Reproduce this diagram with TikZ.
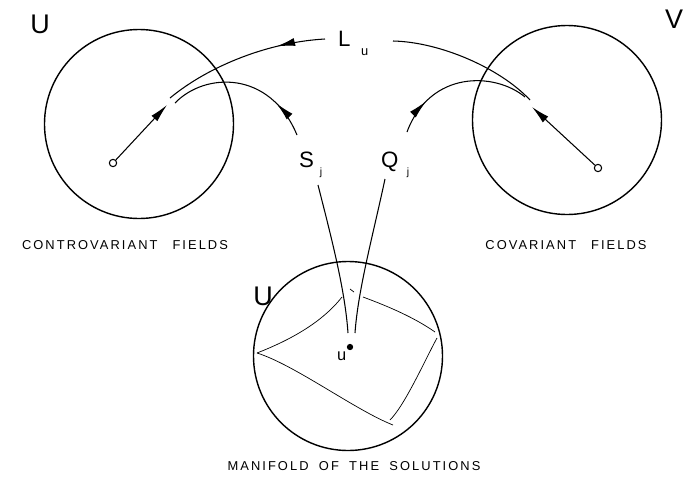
\documentclass[tikz,border=0pt]{standalone}
\usepackage{fontspec}
\setmainfont{Liberation Sans}
\newfontfamily\spacedfont[LetterSpace=16]{Liberation Sans}
\usetikzlibrary{arrows.meta,positioning,decorations.markings}

\begin{document}
\begin{tikzpicture}[
  x=0.03cm, y=-0.03cm,
  >={Latex[length=5.5mm,width=2.4mm]},
  space/.style={circle, draw=black, line width=1.2pt, minimum size=5.67cm, inner sep=0pt},
  origin/.style={circle, draw=black, line width=0.9pt, fill=white, minimum size=0.22cm, inner sep=0pt},
  point/.style={circle, fill=black, minimum size=0.19cm, inner sep=0pt},
  lab/.style={inner sep=0pt, font=\fontsize{23}{25}\selectfont},
  oplab/.style={inner sep=0pt, anchor=base west, font=\fontsize{19}{21}\selectfont},
  caption/.style={inner sep=0pt, font=\spacedfont\fontsize{11}{13}\selectfont},
  map/.style={line width=0.9pt},
  midarrow/.style={postaction={decorate}, decoration={markings, mark=at position #1 with {\arrow{>}}}},
  sheet/.style={line width=0.6pt}
]
\useasboundingbox (0,0) rectangle (691,494);

\node[space] (contra) at (139,124) {};
\node[space] (co) at (567,120) {};
\node[space] (sol) at (348,356) {};

\node[lab] (Ucontra) at (40,24) {U};
\node[lab] (Vco) at (674,19) {V};
\node[lab] (Usol) at (263,296) {U};

\node[origin] (o1) at (113,163) {};
\node[origin] (o2) at (598,168) {};
\node[point] (u) at (350,347) {};
\node[inner sep=0pt, font=\fontsize{14}{15}\selectfont, below left=2pt and 1pt of u] (ulab) {u};

\node[oplab] (Lu) at (338,46) {L\hspace{9pt}\raisebox{-8pt}{\fontsize{11}{11}\selectfont u}};
\node[oplab] (Sj) at (299,167) {S\hspace{5pt}\raisebox{-7.5pt}{\fontsize{9}{9}\selectfont j}};
\node[oplab] (Qj) at (381,167) {Q\hspace{7pt}\raisebox{-7.5pt}{\fontsize{9}{9}\selectfont j}};

\node[caption] (capcontra) at (125,245) {CONTROVARIANT\hspace{8pt} FIELDS};
\node[caption] (capco) at (566,245) {COVARIANT\hspace{8pt} FIELDS};
\node[caption] (capsol) at (354,466) {MANIFOLD\hspace{4pt} OF\hspace{4pt} THE\hspace{4pt} SOLUTIONS};

\coordinate (vL) at (167,105);
\coordinate (vR) at (532,107);
\coordinate (LuL) at (170,98);
\coordinate (LuR) at (530,100);
\coordinate (SjE) at (175,103);
\coordinate (QjE) at (525,97);
\coordinate (Sbot) at (348,333);
\coordinate (Qbot) at (355,333);

\draw[map, ->] (o1) -- (vL);
\draw[map, ->] (o2) -- (vR);
\draw[map, midarrow=0.29] (325,39) .. controls (270,42) and (210,65) .. (LuL);
\draw[map] (393,41) .. controls (440,42) and (500,68) .. (LuR);
\draw[map, midarrow=0.25] (297,135) .. controls (270,70) and (205,72) .. (SjE);
\draw[map, midarrow=0.25] (407,132) .. controls (430,70) and (495,72) .. (QjE);
\draw[map] (318,185) .. controls (332,240) and (345,290) .. (Sbot);
\draw[map] (385,179) .. controls (373,235) and (358,290) .. (Qbot);

\draw[sheet] (257,353) .. controls (285,342) and (320,325) .. (342,297);
\draw[sheet] (350,289) -- (354,292);
\draw[sheet] (363,297) .. controls (390,307) and (415,318) .. (435,332);
\draw[sheet] (437,338) .. controls (425,360) and (405,405) .. (390,420);
\draw[sheet] (257,353) .. controls (295,365) and (355,410) .. (393,425);
\end{tikzpicture}
\end{document}
